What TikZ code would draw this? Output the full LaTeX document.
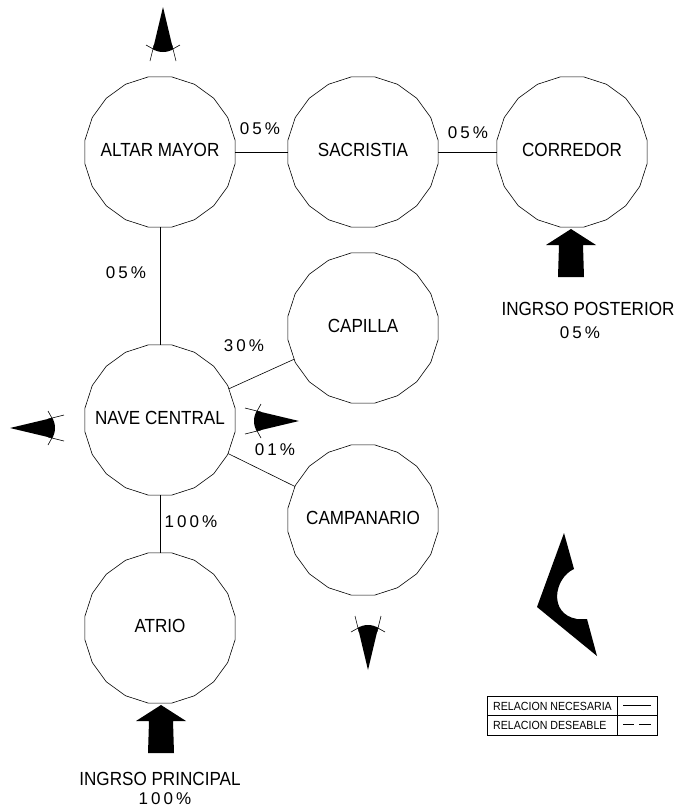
\documentclass[tikz,border=0pt]{standalone}
\usepackage{fontspec}
\setmainfont[FakeStretch=0.9]{Liberation Sans}
\newfontfamily\pctfont[LetterSpace=18]{Liberation Sans}
\usetikzlibrary{shapes.geometric}
\begin{document}
\begin{tikzpicture}[x=1pt,y=-1pt,
  room/.style={draw, line width=0.6pt, regular polygon, regular polygon sides=20,
    minimum size=152pt, inner sep=0pt, outer sep=0pt,
    label={[roomtext]center:#1}},
  roomtext/.style={font=\fontsize{19}{21}\selectfont, inner sep=0pt, yshift=2pt},
  link/.style={line width=0.6pt},
  pct/.style={font=\pctfont\fontsize{17}{19}\selectfont, inner sep=0pt},
  note/.style={font=\fontsize{19}{21}\selectfont, inner sep=0pt},
  legtext/.style={font=\fontsize{11.8}{13}\selectfont, inner sep=0pt, anchor=west},
  viewmark/.pic={
    \fill (0,-10) -- (42,0) -- (0,10) .. controls (-4,5) and (-4,-5) .. (0,-10) -- cycle;
    \draw[line width=0.6pt] (-1,-8) -- (4,-17);
    \draw[line width=0.6pt] (4,-9) -- (-12,-13);
    \draw[line width=0.6pt] (-1,8) -- (4,17);
    \draw[line width=0.6pt] (4,9) -- (-12,13);
  },
  entry/.pic={
    \fill (0,0) -- (25,16) -- (12,16) -- (13,48) -- (-13,48) -- (-12,16) -- (-25,16) -- cycle;
  }
]
\useasboundingbox (0,0) rectangle (679,812);

% rooms
\node[room=ALTAR MAYOR] (altar) at (160,152) {};
\node[room=SACRISTIA] (sacristia) at (363,152) {};
\node[room=CORREDOR] (corredor) at (572,152) {};
\node[room=CAPILLA] (capilla) at (363,328) {};
\node[room=NAVE CENTRAL] (nave) at (160,420) {};
\node[room=CAMPANARIO] (campanario) at (363,520) {};
\node[room=ATRIO] (atrio) at (160,628) {};

% connectors
\draw[link] (altar) -- (sacristia);
\draw[link] (sacristia) -- (corredor);
\draw[link] (altar) -- (nave);
\draw[link] (nave) -- (capilla);
\draw[link] (nave) -- (campanario);
\draw[link] (nave) -- (atrio);

% percentages
\node[pct] (p1) at (260,129) {05\%};
\node[pct] (p2) at (468,133) {05\%};
\node[pct] (p3) at (126,273) {05\%};
\node[pct] (p4) at (244,346) {30\%};
\node[pct] (p5) at (275,450) {01\%};
\node[pct] (p6) at (191,522) {100\%};

% entries
\pic at (571,229) {entry};
\pic at (161,705) {entry};
\node[note] (post) at (588,309) {INGRSO POSTERIOR};
\node[pct] (postp) at (580,333) {05\%};
\node[note] (princ) at (160,779) {INGRSO PRINCIPAL};
\node[pct] (princp) at (165,799) {100\%};

% view marks
\pic[rotate=90] at (163,49) {viewmark};
\pic[rotate=180] at (52,428) {viewmark};
\pic[rotate=0] at (257,421) {viewmark};
\pic[rotate=-90] at (368,628) {viewmark};

% north arrow
\fill (564,533) -- (574,569) .. controls (554,578) and (548,614) .. (577,619)
  -- (587,619) -- (597,656) -- (537,607) -- cycle;

% legend
\draw[line width=0.6pt] (487,696) rectangle (657,735);
\draw[line width=0.6pt] (487,715) -- (657,715);
\draw[line width=0.6pt] (617,696) -- (617,735);
\node[legtext] (l1) at (493,706) {RELACION NECESARIA};
\node[legtext] (l2) at (493,725) {RELACION DESEABLE};
\draw[line width=0.6pt] (623,705) -- (651,705);
\draw[line width=0.6pt] (623,724) -- (634,724);
\draw[line width=0.6pt] (639,724) -- (651,724);
\end{tikzpicture}
\end{document}
